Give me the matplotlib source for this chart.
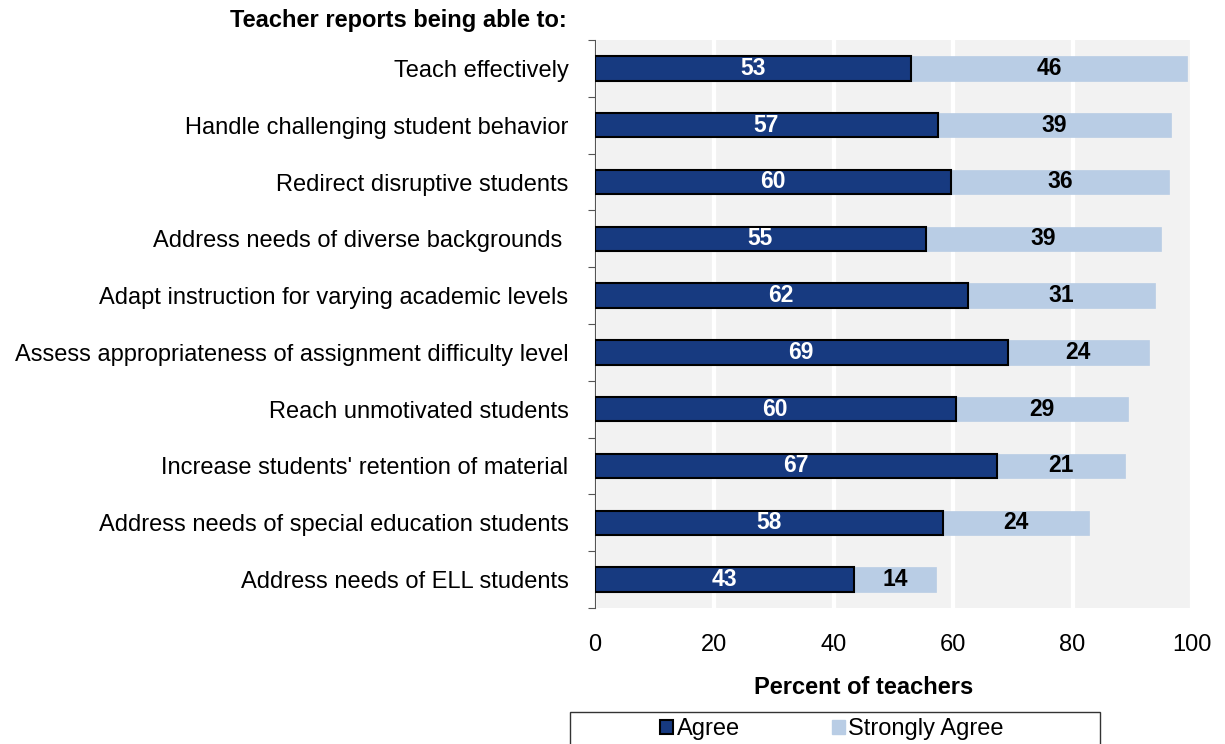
import matplotlib
matplotlib.use("Agg")
import matplotlib.pyplot as plt
from matplotlib.patches import Patch, Rectangle
import numpy as np

plt.rcParams['font.family'] = ['Liberation Sans', 'DejaVu Sans']

categories = [
    "Teach effectively",
    "Handle challenging student behavior",
    "Redirect disruptive students",
    "Address needs of diverse backgrounds ",
    "Adapt instruction for varying academic levels",
    "Assess appropriateness of assignment difficulty level",
    "Reach unmotivated students",
    "Increase students' retention of material",
    "Address needs of special education students",
    "Address needs of ELL students",
]
agree = [52.9, 57.4, 59.7, 55.4, 62.4, 69.1, 60.4, 67.4, 58.3, 43.4]
strongly_agree = [46.3, 39.0, 36.4, 39.4, 31.4, 23.7, 28.9, 21.4, 24.4, 13.8]
xticks = [0, 20, 40, 60, 80, 100]

c_agree = "#173a80"
c_sa = "#b9cde5"
FS = 17

fig = plt.figure(figsize=(12.25, 7.44), dpi=100)
ax = fig.add_axes([595/1225, 1-608/744, (1192-595)/1225, (608-40)/744])
ax.set_facecolor("#f2f2f2")

y = np.arange(len(categories))
h = 0.43
ax.barh(y, agree, height=h, color=c_agree, edgecolor="black", linewidth=1.5, zorder=3)
ax.barh(y, strongly_agree, left=agree, height=h, color=c_sa, edgecolor=c_sa, linewidth=0.5, zorder=2)

lbl_font = dict(fontsize=16.5, fontweight='bold')
for i in range(len(categories)):
    ax.text(agree[i]/2, y[i], f"{agree[i]:.0f}", ha='center', va='center', color='white', zorder=4, **lbl_font)
    ax.text(agree[i] + strongly_agree[i]/2, y[i], f"{strongly_agree[i]:.0f}", ha='center', va='center', color='black', zorder=4, **lbl_font)

ax.set_xlim(0, 100)
ax.set_ylim(len(categories) - 0.5, -0.5)
ax.set_xticks(xticks)
ax.set_xticklabels([str(t) for t in xticks], fontsize=FS)
ax.tick_params(axis='x', length=0, pad=19)
ax.set_yticks(y)
ax.set_yticklabels(categories, fontsize=FS)
ax.tick_params(axis='y', which='major', length=0, pad=19)
ax.set_yticks(np.arange(-0.5, len(categories) + 0.5, 1), minor=True)
ax.tick_params(axis='y', which='minor', length=5, width=0.8, color='#555555', direction='out')

ax.xaxis.grid(True, color='white', linewidth=3, zorder=1)
ax.set_axisbelow(True)
for s in ['top', 'right', 'bottom']:
    ax.spines[s].set_visible(False)
ax.spines['left'].set_color('#555555')
ax.spines['left'].set_linewidth(0.8)

fig.text(567/1225, 1-20/744, "Teacher reports being able to:", ha='right', va='center',
         fontsize=FS, fontweight='bold')
fig.text(864/1225, 1-687/744, "Percent of teachers", ha='center', va='center',
         fontsize=FS, fontweight='bold')

# legend frame
fig.patches.append(Rectangle((570/1225, -0.01), 530/1225, 1-712/744 + 0.01,
                             transform=fig.transFigure, facecolor='white',
                             edgecolor='#333333', linewidth=1.0))
handles = [Patch(facecolor=c_agree, edgecolor='black', linewidth=1.5),
           Patch(facecolor=c_sa, edgecolor=c_sa)]
leg = fig.legend(handles, ["Agree", "Strongly Agree"], ncol=2, loc='center left',
                 bbox_to_anchor=(660/1225, 1-729/744), fontsize=FS, frameon=False,
                 handlelength=0.55, handleheight=0.55,
                 handletextpad=0.15, columnspacing=3.9, borderpad=0, borderaxespad=0)

fig.savefig("out.png", dpi=100)
